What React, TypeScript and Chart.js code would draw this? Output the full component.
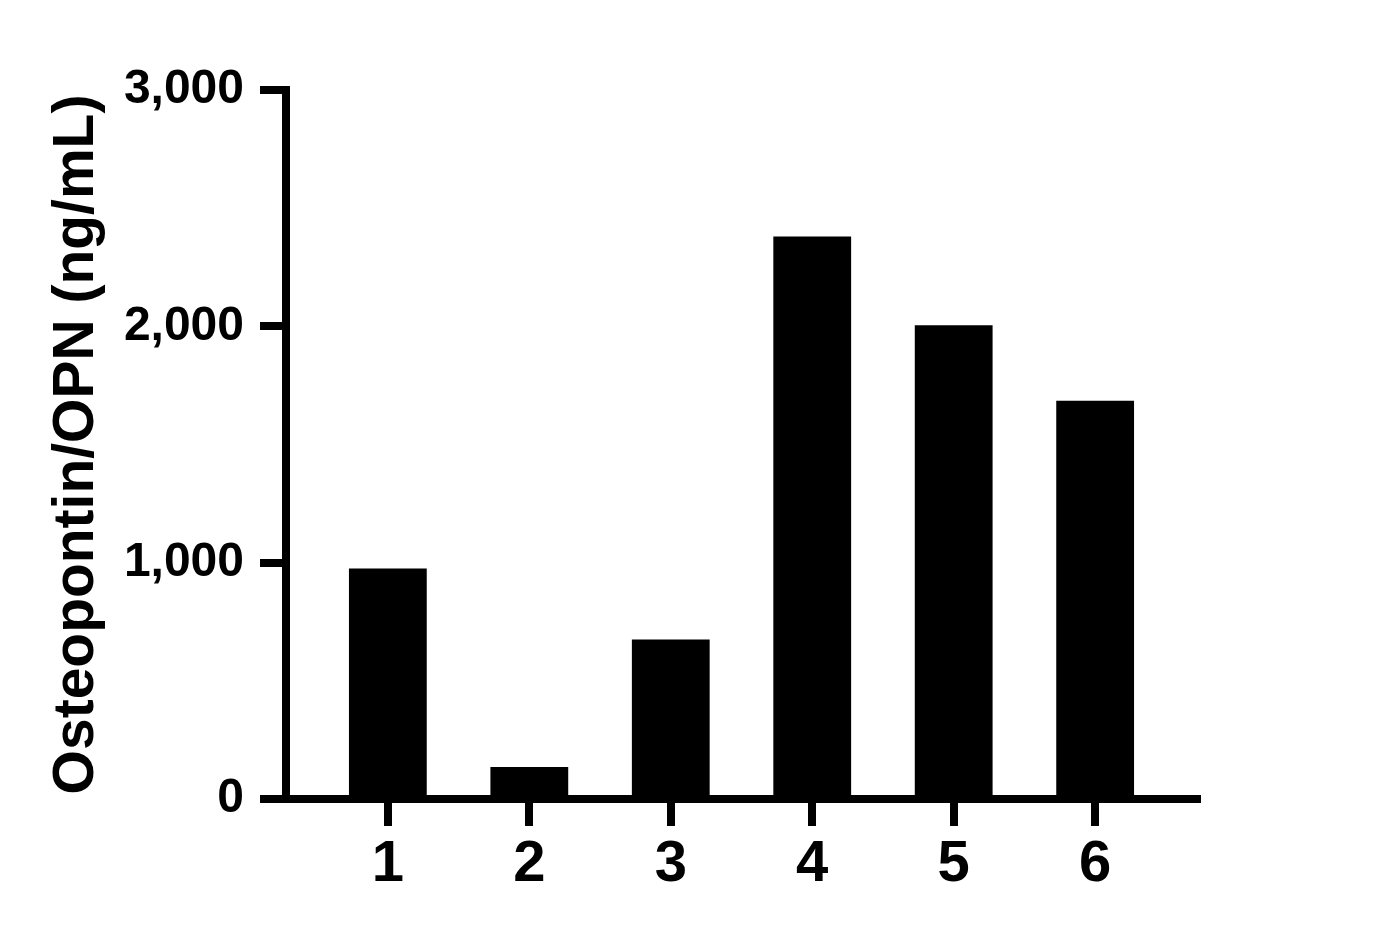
import React, { useEffect, useRef } from 'react';
import { Chart, registerables } from 'chart.js';

Chart.register(...registerables);

const categories = ['1', '2', '3', '4', '5', '6'];
const categoryPositions = [1, 2, 3, 4, 5, 6];
const values = [975, 135, 675, 2380, 2005, 1685];
const yTicks = [0, 1000, 2000, 3000];
const yTitle = 'Osteopontin/OPN (ng/mL)';

const FAMILY = '"Liberation Sans", Arial, Helvetica, sans-serif';

export default function App() {
  const ref = useRef<HTMLCanvasElement>(null);

  useEffect(() => {
    const chart = new Chart(ref.current as HTMLCanvasElement, {
      type: 'bar',
      data: {
        datasets: [
          {
            data: categoryPositions.map((x, i) => ({ x, y: values[i] })),
            backgroundColor: '#000000',
            borderWidth: 0,
            barPercentage: 0.55,
            categoryPercentage: 1,
          },
        ],
      },
      options: {
        animation: false,
        responsive: false,
        layout: { padding: { top: 90, right: 181, bottom: 0, left: 0 } },
        plugins: { legend: { display: false }, tooltip: { enabled: false } },
        scales: {
          x: {
            type: 'linear',
            offset: false,
            min: 0.28,
            max: 6.72,
            afterBuildTicks: (s: any) => {
              s.ticks = categoryPositions.map((v) => ({ value: v }));
            },
            afterFit: (s: any) => {
              s.height = 140;
            },
            ticks: {
              callback: (v: any) => categories[categoryPositions.indexOf(Number(v))] ?? '',
              font: { family: FAMILY, size: 58, weight: 'bold' },
              color: '#000000',
              padding: 4,
              autoSkip: false,
              maxRotation: 0,
            },
            grid: {
              offset: false,
              drawOnChartArea: false,
              tickLength: 27,
              tickWidth: 8,
              lineWidth: 8,
              color: '#000000',
            },
            border: { width: 8, color: '#000000' },
          },
          y: {
            type: 'linear',
            min: 0,
            max: 3000,
            afterBuildTicks: (s: any) => {
              s.ticks = yTicks.map((v) => ({ value: v }));
            },
            afterFit: (s: any) => {
              s.width = 286;
            },
            ticks: {
              callback: (v: any) => Number(v).toLocaleString('en-US'),
              font: { family: FAMILY, size: 48, weight: 'bold' },
              color: '#000000',
              padding: 16,
            },
            grid: {
              drawOnChartArea: false,
              tickLength: 26,
              tickWidth: 8,
              lineWidth: 8,
              color: '#000000',
            },
            border: { width: 8, color: '#000000' },
            title: {
              display: true,
              text: yTitle,
              font: { family: FAMILY, size: 57, weight: 'bold' },
              color: '#000000',
              padding: { top: 43, bottom: 0 },
            },
          },
        },
      } as any,
    });
    return () => chart.destroy();
  }, []);

  return (
    <div style={{ position: 'absolute', left: 0, top: 0, width: 1378, height: 939, background: '#ffffff' }}>
      <canvas ref={ref} width={1378} height={939} style={{ display: 'block', width: 1378, height: 939 }} />
    </div>
  );
}
